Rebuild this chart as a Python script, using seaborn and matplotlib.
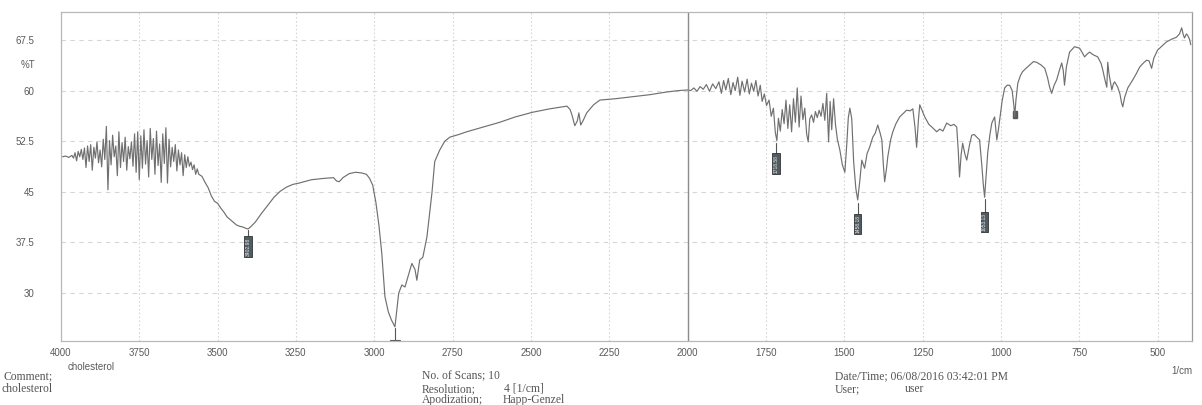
import numpy as np
import pandas as pd
import seaborn as sns
import matplotlib.pyplot as plt
from matplotlib.ticker import MultipleLocator, FixedLocator

# Spectrum (wavenumber 1/cm, %T)
wavenumber = [
    3995, 3985, 3975, 3965, 3960, 3955, 3950, 3945, 3940, 3935, 3930, 3925, 3920, 3915, 3910,
    3905, 3900, 3895, 3890, 3885, 3880, 3875, 3870, 3865, 3860, 3855, 3850, 3845, 3840, 3835,
    3830, 3825, 3820, 3815, 3810, 3805, 3800, 3795, 3790, 3785, 3780, 3775, 3770, 3765, 3760,
    3755, 3750, 3745, 3740, 3735, 3730, 3725, 3720, 3715, 3710, 3705, 3700, 3695, 3690, 3685,
    3680, 3675, 3670, 3665, 3660, 3655, 3650, 3645, 3640, 3635, 3630, 3625, 3620, 3615, 3610,
    3605, 3600, 3595, 3590, 3585, 3580, 3575, 3570, 3565, 3560, 3550, 3540, 3530, 3520, 3510,
    3500, 3490, 3480, 3470, 3460, 3450, 3440, 3430, 3420, 3410, 3403, 3395, 3380, 3360, 3340,
    3320, 3300, 3280, 3260, 3240, 3200, 3160, 3130, 3120, 3112, 3100, 3080, 3060, 3040, 3025,
    3015, 3005, 2995, 2985, 2976, 2966, 2955, 2945, 2934, 2928, 2922, 2912, 2902, 2890, 2880,
    2870, 2864, 2855, 2845, 2832, 2824, 2816, 2807, 2791, 2775, 2759, 2730, 2705, 2653, 2600,
    2550, 2494, 2440, 2385, 2375, 2369, 2360, 2352, 2347, 2341, 2333, 2322, 2300, 2280, 2230,
    2175, 2120, 2066, 2030, 2000,
    1990, 1980, 1970, 1960, 1950, 1940, 1930, 1920, 1910, 1900, 1892, 1885, 1878, 1870, 1862,
    1855, 1848, 1840, 1833, 1826, 1818, 1810, 1803, 1796, 1789, 1782, 1775, 1768, 1762, 1755,
    1748, 1740, 1733, 1726, 1720, 1715, 1710, 1704, 1698, 1692, 1686, 1680, 1674, 1668, 1662,
    1656, 1650, 1644, 1638, 1632, 1626, 1620, 1615, 1610, 1604, 1598, 1592, 1586, 1580, 1574,
    1568, 1562, 1556, 1550, 1545, 1540, 1534, 1528, 1522, 1514, 1506, 1498, 1492, 1487, 1482,
    1476, 1470, 1463, 1457, 1450, 1444, 1435, 1427, 1419, 1409, 1401, 1393, 1386, 1380, 1375,
    1371, 1365, 1361, 1352, 1345, 1335, 1323, 1301, 1290, 1281, 1274, 1269, 1263, 1259, 1250,
    1243, 1230, 1218, 1205, 1195, 1185, 1173, 1160, 1150, 1141, 1136, 1132, 1127, 1122, 1115,
    1109, 1100, 1093, 1085, 1077, 1068, 1061, 1056, 1052, 1047, 1042, 1035, 1029, 1020, 1013,
    1008, 1004, 996, 988, 980, 972, 964, 958, 956, 952, 946, 938, 931, 920, 908,
    896, 886, 872, 860, 851, 845, 838, 830, 822, 814, 806, 801, 797, 791, 781,
    765, 749, 740, 733, 725, 717, 705, 691, 680, 675, 668, 662, 659, 655, 646,
    641, 637, 632, 627, 620, 615, 611, 605, 595, 587, 579, 568, 557, 545, 535,
    527, 519, 512, 500, 486, 472, 456, 440, 430, 423, 418, 414, 408, 404, 398,
    394,
]
transmittance = [
    50.2, 50.3, 50.1, 50.4, 50.0, 50.8, 49.6, 51.0, 50.2, 51.3, 49.8, 51.5, 48.6, 51.8, 49.5,
    52.0, 48.2, 51.6, 50.0, 52.4, 49.3, 51.2, 48.7, 52.8, 49.8, 54.7, 45.3, 52.6, 49.0, 53.4,
    50.2, 51.8, 47.4, 53.9, 48.6, 52.3, 49.5, 53.1, 48.2, 51.7, 49.9, 52.4, 48.8, 53.6, 47.9,
    53.9, 46.8, 53.3, 48.5, 54.2, 49.1, 52.6, 47.2, 54.4, 49.8, 52.9, 47.6, 54.0, 48.9, 52.1,
    46.4, 53.6, 49.2, 54.5, 46.3, 52.8, 48.7, 51.6, 49.5, 52.0, 48.1, 51.2, 49.0, 50.8, 47.4,
    50.5, 48.6, 50.2, 48.8, 49.4, 48.3, 49.0, 47.6, 48.4, 47.6, 47.3, 46.4, 45.6, 44.4, 43.6,
    43.3, 42.6, 42.0, 41.3, 40.9, 40.5, 40.1, 39.9, 39.8, 39.6, 39.5, 39.8, 40.5, 41.8, 43.0,
    44.2, 45.1, 45.7, 46.1, 46.3, 46.8, 47.0, 47.1, 46.6, 46.5, 47.1, 47.7, 47.9, 47.8, 47.6,
    47.0, 46.0, 43.5, 40.0, 35.9, 29.5, 27.2, 26.0, 25.0, 27.5, 30.0, 31.2, 30.9, 32.8, 34.4,
    33.5, 31.9, 34.9, 35.3, 38.3, 41.5, 44.8, 49.5, 51.2, 52.5, 53.1, 53.5, 53.9, 54.6, 55.3,
    56.1, 56.8, 57.3, 57.7, 57.2, 56.4, 54.8, 55.5, 56.7, 54.9, 55.6, 56.7, 57.9, 58.6, 58.8,
    59.1, 59.4, 59.8, 60.0, 60.1,
    60.0, 60.4, 59.9, 60.6, 60.2, 60.9, 59.9, 61.0, 60.3, 61.3, 59.6, 61.5, 60.1, 61.8, 59.4,
    61.2, 60.0, 62.0, 59.3, 61.4, 59.8, 61.7, 59.5, 61.1, 59.9, 61.5, 59.2, 60.8, 58.4, 59.5,
    57.8, 58.6, 56.2, 57.4, 53.8, 52.6, 55.9, 54.0, 57.2, 55.1, 58.6, 54.4, 57.9, 53.9, 58.8,
    55.3, 60.4, 54.6, 59.2, 55.7, 57.4, 53.6, 52.4, 55.8, 56.4, 55.3, 56.9, 56.0, 57.1, 56.2,
    58.1, 55.6, 59.6, 52.4, 58.4, 54.2, 58.8, 55.0, 52.8, 51.2, 49.0, 47.9, 52.0, 56.0, 57.4,
    55.8, 49.5, 45.5, 43.8, 46.8, 49.7, 48.5, 50.7, 51.6, 53.1, 53.7, 54.9, 53.8, 52.7, 48.9,
    46.5, 48.5, 50.2, 52.7, 53.9, 55.1, 56.1, 57.1, 57.0, 57.3, 54.5, 51.6, 55.8, 57.9, 56.9,
    56.1, 55.0, 54.5, 53.9, 54.3, 54.0, 55.2, 54.8, 55.0, 54.6, 51.0, 47.2, 50.5, 52.2, 50.6,
    49.7, 52.0, 53.4, 53.5, 53.1, 52.7, 49.0, 46.0, 44.2, 47.5, 50.8, 53.5, 55.2, 56.1, 52.7,
    54.2, 55.6, 58.5, 60.4, 60.8, 60.8, 60.0, 57.5, 56.1, 58.6, 61.1, 62.2, 62.8, 63.3, 63.8,
    64.3, 64.2, 63.8, 63.3, 61.9, 60.6, 59.6, 60.8, 61.6, 62.9, 64.1, 63.0, 60.8, 63.5, 65.7,
    66.5, 66.3, 65.6, 65.0, 65.4, 65.7, 65.3, 65.0, 64.0, 63.1, 61.6, 60.5, 64.2, 62.5, 60.1,
    61.0, 61.3, 60.9, 60.5, 59.5, 58.2, 57.6, 59.0, 60.4, 61.0, 61.6, 62.5, 63.5, 64.1, 64.5,
    64.4, 63.3, 64.8, 66.0, 66.6, 67.2, 67.6, 67.9, 68.4, 69.3, 68.3, 67.8, 68.4, 68.2, 67.6,
    66.8,
]

# labelled peaks: position, label, top of the label box and top of its stem (%T)
peak_pos = [3403, 1718, 1457, 1052]
peak_text = ["3402.98", "1718.58", "1458.18", "1053.13"]
peak_box_top = [38.2, 50.5, 41.6, 41.9]
peak_line_top = [39.3, 52.2, 43.4, 43.9]

yticks = [30, 37.5, 45, 52.5, 60, 67.5]
xticks = [4000, 3750, 3500, 3250, 3000, 2750, 2500, 2250, 2000, 1750, 1500, 1250, 1000, 750, 500]

df = pd.DataFrame({"wn": wavenumber, "T": transmittance})

sns.set_style("white")
plt.rcParams['font.family'] = ['Liberation Sans', 'DejaVu Sans']

fig = plt.figure(figsize=(12.02, 4.05), dpi=100)
ax = fig.add_axes([0.0507, 0.158, 0.941, 0.8124])

sns.lineplot(data=df, x="wn", y="T", ax=ax, color="#707070", linewidth=0.85,
             estimator=None, sort=False)

ax.set_xlim(4000, 390)
ax.set_ylim(22.9, 71.65)

ax.xaxis.set_major_locator(FixedLocator(xticks))
ax.xaxis.set_minor_locator(MultipleLocator(50))
ax.yaxis.set_major_locator(FixedLocator(yticks))
ax.yaxis.set_minor_locator(MultipleLocator(1.5))
ax.set_xticklabels([str(t) for t in xticks])
ax.set_yticklabels([f"{t:g}" for t in yticks])
ax.tick_params(axis="x", which="major", direction="in", length=4, color="#999999",
               labelsize=7, labelcolor="#5a5a5a", pad=5)
ax.tick_params(axis="x", which="minor", direction="in", length=3, color="#aaaaaa")
ax.tick_params(axis="y", which="major", direction="out", length=14, color="#aaaaaa",
               labelsize=7, labelcolor="#5a5a5a", pad=5)
ax.tick_params(axis="y", which="minor", direction="out", length=6, color="#aaaaaa")
ax.set_xlabel("")
ax.set_ylabel("")

ax.grid(True, axis="y", which="major", linestyle=(0, (4, 4)), color="#d6d6d6", linewidth=0.8)
ax.grid(True, axis="x", which="major", linestyle=(0, (1.5, 2)), color="#d6d6d6", linewidth=0.8)
for s in ax.spines.values():
    s.set_color("#b8b8b8")
    s.set_linewidth(0.9)
ax.spines["right"].set_color("#9a9a9a")

# fold / divider line at 2000
ax.axvline(2000, color="#8c8c8c", linewidth=1.0)

# peak label boxes
for pos, txt, btop, ltop in zip(peak_pos, peak_text, peak_box_top, peak_line_top):
    ax.plot([pos, pos], [ltop, btop], color="#555555", linewidth=0.8)
    ax.text(pos, btop, txt, rotation=90, ha="center", va="top", fontsize=3.6,
            color="#e8e8e8",
            bbox=dict(boxstyle="square,pad=0.25", fc="#4f5d63", ec="#333333", lw=0.6))
# the 2934 peak label falls below the frame, only its stem remains
ax.plot([2934, 2934], [24.8, 22.9], color="#555555", linewidth=0.8)
ax.plot([2950, 2918], [23.05, 23.05], color="#555555", linewidth=0.8)
ax.add_patch(plt.Rectangle((950, 55.9), 12, 1.1, color="#5a5a5a"))

ax.text(-0.023, (63.75 - 22.9) / (71.65 - 22.9), "%T", transform=ax.transAxes,
        fontsize=7, color="#5a5a5a", ha="right", va="center")
ax.text(4000 - 20, -0.065, "cholesterol", transform=ax.get_xaxis_transform(),
        fontsize=7, color="#5a5a5a", ha="left", va="top")
ax.text(1.0, -0.075, "1/cm", transform=ax.transAxes,
        fontsize=7, color="#5a5a5a", ha="right", va="top")

# footer (baselines in pixels from the top)
serif = ['Liberation Serif', 'DejaVu Serif']
foot = dict(fontsize=8.4, color="#555555", family=serif, va="baseline")
row1, row2, row3 = 1 - 379.5 / 405, 1 - 391.8 / 405, 1 - 403.2 / 405
fig.text(0.003, row1, "Comment;", **foot)
fig.text(0.001, row2, "cholesterol", **foot)
fig.text(422 / 1202, row1, "No. of Scans; 10", **foot)
fig.text(422 / 1202, row2, "Resolution;", **foot)
fig.text(504 / 1202, row2, "4 [1/cm]", **foot)
fig.text(422 / 1202, row3, "Apodization;", **foot)
fig.text(503 / 1202, row3, "Happ-Genzel", **foot)
fig.text(835 / 1202, row1, "Date/Time; 06/08/2016 03:42:01 PM", **foot)
fig.text(835 / 1202, row2, "User;", **foot)
fig.text(905 / 1202, row2, "user", **foot)

fig.savefig("out.png", dpi=100, facecolor="white")
